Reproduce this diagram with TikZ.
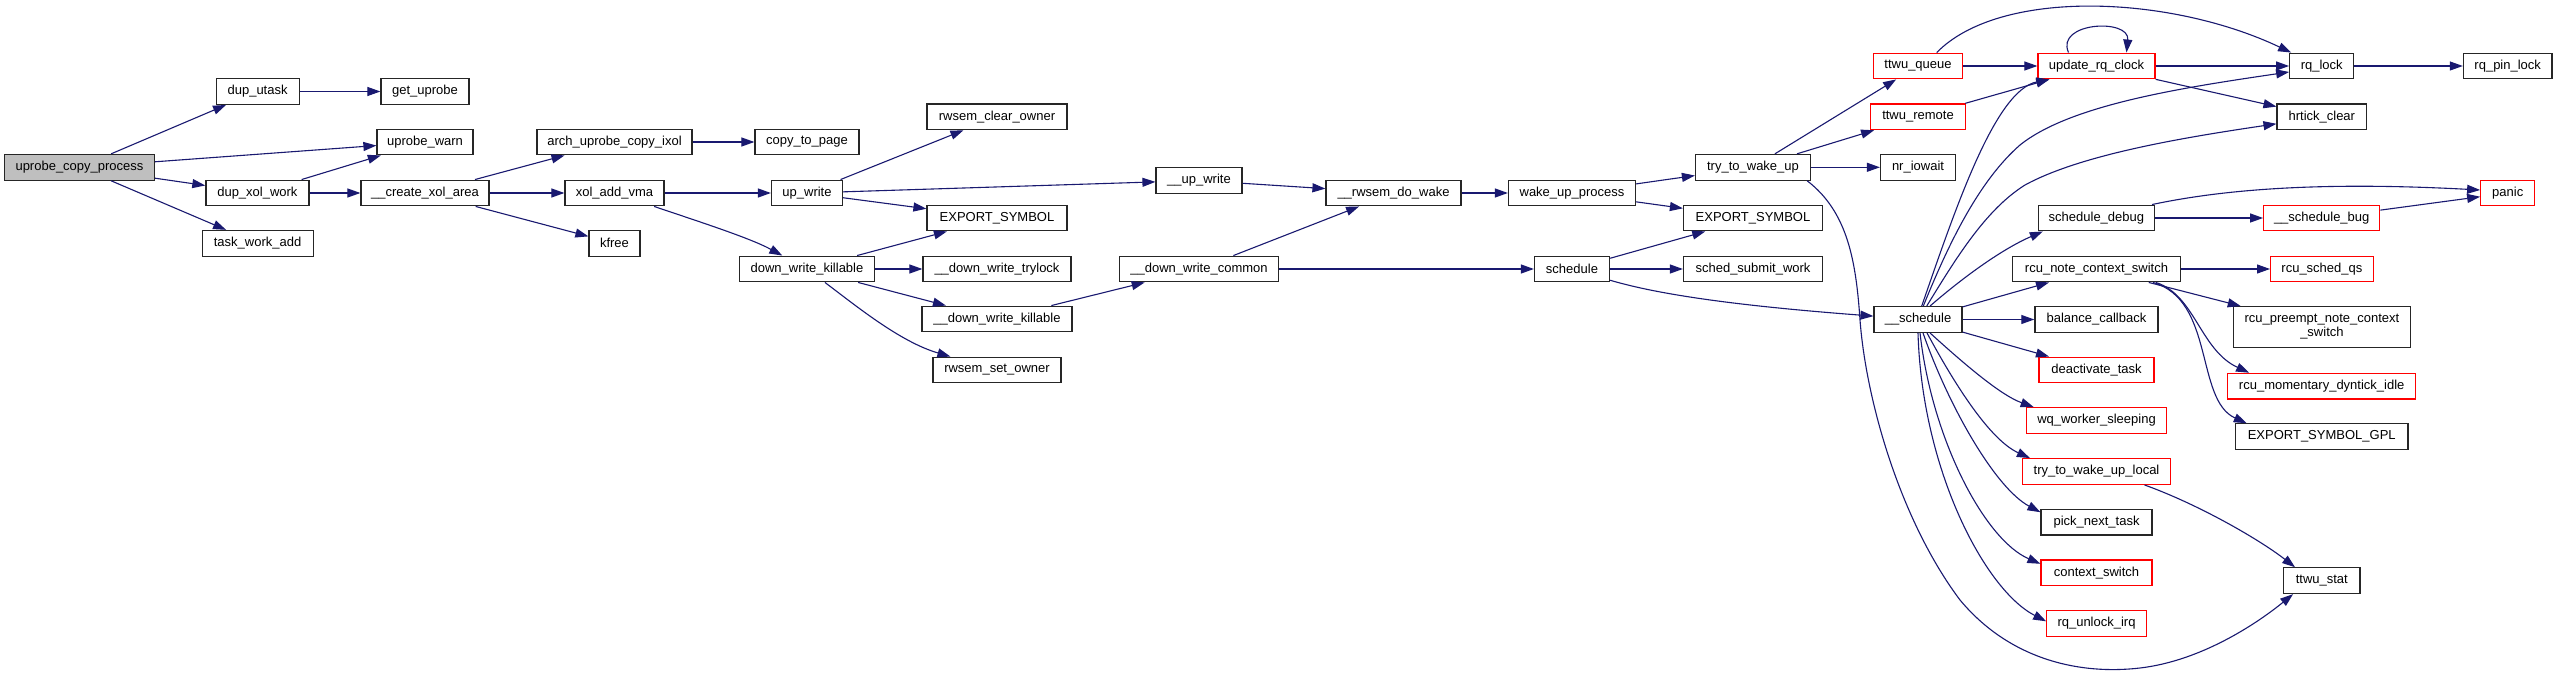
\documentclass[tikz,border=0pt]{standalone}
\usepackage{fontspec}
\setmainfont{Liberation Sans}
\usetikzlibrary{arrows.meta,calc}
\definecolor{edgeblue}{HTML}{191970}
\definecolor{rootgray}{HTML}{BFBFBF}
\definecolor{boxred}{HTML}{FF0000}
\begin{document}
\begin{tikzpicture}[x=1pt,y=-1pt,
  box/.style={draw=black!85, line width=1.2pt, fill=white, minimum height=25.7pt,
    inner sep=0pt, font=\fontsize{13}{14}\selectfont},
  redbox/.style={box, draw=boxred},
  edge/.style={draw=edgeblue, line width=1.1pt, -{Triangle[length=13pt,width=9pt]}}]
\fill[white] (0,0) rectangle (2557,676);
\useasboundingbox (0,0) rectangle (2557,676);

% nodes
\node[box, fill=rootgray, minimum width=150pt] (ucp) at (79.5,167.3) {uprobe\_copy\_process};
\node[box, minimum width=83pt] (dupu) at (257.6,91.5) {dup\_utask};
\node[box, minimum width=88pt] (getu) at (425,91.5) {get\_uprobe};
\node[box, minimum width=96pt] (warn) at (425,142) {uprobe\_warn};
\node[box, minimum width=103pt] (dxw) at (257.4,193) {dup\_xol\_work};
\node[box, minimum width=111pt] (twa) at (257.6,243.3) {task\_work\_add};
\node[box, minimum width=128pt] (cxa) at (425,193) {\_\_create\_xol\_area};
\node[box, minimum width=155pt] (arch) at (614.5,142) {arch\_uprobe\_copy\_ixol};
\node[box, minimum width=99pt] (xav) at (614.5,193) {xol\_add\_vma};
\node[box, minimum width=51pt] (kfree) at (614.5,243.3) {kfree};
\node[box, minimum width=104pt] (ctp) at (807,142) {copy\_to\_page};
\node[box, minimum width=140pt] (rco) at (997,116.8) {rwsem\_clear\_owner};
\node[box, minimum width=71pt] (upw) at (807,193) {up\_write};
\node[box, minimum width=86pt] (uupw) at (1199,180.5) {\_\_up\_write};
\node[box, minimum width=140pt] (exp1) at (997,218) {EXPORT\_SYMBOL};
\node[box, minimum width=135.5pt] (dwk) at (807,269) {down\_write\_killable};
\node[box, minimum width=148pt] (udwt) at (997,269) {\_\_down\_write\_trylock};
\node[box, minimum width=150pt] (udwk) at (997,319) {\_\_down\_write\_killable};
\node[box, minimum width=128pt] (rso) at (997,370) {rwsem\_set\_owner};
\node[box, minimum width=159pt] (udwc) at (1199,269) {\_\_down\_write\_common};
\node[box, minimum width=135pt] (rdw) at (1393.5,193) {\_\_rwsem\_do\_wake};
\node[box, minimum width=127pt] (wup) at (1572,193) {wake\_up\_process};
\node[box, minimum width=115pt] (ttwu) at (1753,167.3) {try\_to\_wake\_up};
\node[box, minimum width=139pt] (exp2) at (1753,218) {EXPORT\_SYMBOL};
\node[box, minimum width=75pt] (sch) at (1572,269) {schedule};
\node[box, minimum width=139pt] (ssw) at (1753,269) {sched\_submit\_work};
\node[redbox, minimum width=89.5pt] (tq) at (1918,66) {ttwu\_queue};
\node[redbox, minimum width=94.5pt] (tr) at (1918,116.8) {ttwu\_remote};
\node[box, minimum width=75pt] (nio) at (1918,167.3) {nr\_iowait};
\node[box, minimum width=88pt] (usch) at (1918,319.5) {\_\_schedule};
\node[redbox, minimum width=117pt] (urc) at (2096.5,66) {update\_rq\_clock};
\node[box, minimum width=64pt] (rql) at (2321.7,66) {rq\_lock};
\node[box, minimum width=88.6pt] (rqp) at (2507.7,66) {rq\_pin\_lock};
\node[box, minimum width=89.5pt] (hrt) at (2321.8,116.8) {hrtick\_clear};
\node[redbox, minimum width=54pt] (panic) at (2507.7,193) {panic};
\node[box, minimum width=116pt] (sdbg) at (2096.4,218) {schedule\_debug};
\node[redbox, minimum width=116pt] (usb) at (2321.7,218) {\_\_schedule\_bug};
\node[box, minimum width=167.6pt] (rncs) at (2096.5,269) {rcu\_note\_context\_switch};
\node[redbox, minimum width=102.6pt] (rsq) at (2321.9,269) {rcu\_sched\_qs};
\node[box, minimum width=177pt, minimum height=40.6pt, align=center] (rpn) at (2321.9,327) {rcu\_preempt\_note\_context\\\_switch};
\node[box, minimum width=123pt] (bcb) at (2096.4,319.5) {balance\_callback};
\node[redbox, minimum width=115pt] (deact) at (2096.5,370) {deactivate\_task};
\node[redbox, minimum width=188pt] (rmdi) at (2321.7,386.2) {rcu\_momentary\_dyntick\_idle};
\node[redbox, minimum width=140.5pt] (wqs) at (2096.5,420.5) {wq\_worker\_sleeping};
\node[box, minimum width=172.7pt] (esg) at (2321.7,436.7) {EXPORT\_SYMBOL\_GPL};
\node[redbox, minimum width=148pt] (ttwl) at (2096.5,471.5) {try\_to\_wake\_up\_local};
\node[box, minimum width=111pt] (pnt) at (2096.5,522.2) {pick\_next\_task};
\node[redbox, minimum width=111pt] (csw) at (2096.5,572.8) {context\_switch};
\node[redbox, minimum width=99.5pt] (rui) at (2096.5,623.3) {rq\_unlock\_irq};
\node[box, minimum width=76.3pt] (tstat) at (2321.8,580.7) {ttwu\_stat};

% edges
\draw[edge] (ucp) -- (dupu);
\draw[edge] (ucp) -- (warn);
\draw[edge] (ucp) -- (dxw);
\draw[edge] (ucp) -- (twa);
\draw[edge] (dupu) -- (getu);
\draw[edge] (dxw) -- (warn);
\draw[edge] (dxw) -- (cxa);
\draw[edge] (cxa) -- (arch);
\draw[edge] (cxa) -- (xav);
\draw[edge] (cxa) -- (kfree);
\draw[edge] (arch) -- (ctp);
\draw[edge] (xav) -- (upw);
\draw[edge] (xav) .. controls (700,222) and (750,238) .. (dwk);
\draw[edge] (upw) -- (rco);
\draw[edge] (upw) -- (uupw);
\draw[edge] (upw) -- (exp1);
\draw[edge] (dwk) -- (exp1);
\draw[edge] (dwk) -- (udwt);
\draw[edge] (dwk) -- (udwk);
\draw[edge] (dwk) .. controls (855,305) and (900,342) .. (rso);
\draw[edge] (udwk) -- (udwc);
\draw[edge] (uupw) -- (rdw);
\draw[edge] (udwc) -- (rdw);
\draw[edge] (udwc) -- (sch);
\draw[edge] (rdw) -- (wup);
\draw[edge] (wup) -- (ttwu);
\draw[edge] (wup) -- (exp2);
\draw[edge] (sch) -- (exp2);
\draw[edge] (sch) -- (ssw);
\draw[edge] (sch) .. controls (1660,295) and (1740,306) .. (usch);
\draw[edge] (ttwu) -- (tq);
\draw[edge] (ttwu) -- (tr);
\draw[edge] (ttwu) -- (nio);
\draw[edge] ($(ttwu.south east)+(-4,0)$) .. controls (1848,212) and (1856,262) .. (1860,320)
  .. controls (1866,400) and (1900,520) .. (1960,600)
  .. controls (2010,660) and (2080,675) .. (2140,668)
  .. controls (2200,661) and (2255,625) .. ($(tstat.south west)+(10,0)$);
\draw[edge] (tq) -- (urc);
\draw[edge] ($(tq.north)+(18.7,0)$) .. controls (2000,-12) and (2170,-5) .. ($(rql.north west)+(2,0)$);
\draw[edge] ($(urc.north)+(-28,0)$) .. controls (2055,22) and (2130,18) .. ($(urc.north)+(30,0)$);
\draw[edge] (tr) -- (urc);
\draw[edge] (urc) -- (rql);
\draw[edge] (urc) -- (hrt);
\draw[edge] (rql) -- (rqp);
% __schedule fan
\draw[edge] ($(usch.north)+(3.7,0)$) .. controls (1955,210) and (1995,90) .. ($(urc.south west)+(12,0)$);
\draw[edge] ($(usch.north)+(5.3,0)$) .. controls (1950,240) and (1980,180) .. (2020,145)
  .. controls (2070,105) and (2180,88) .. ($(rql.west)+(0,6)$);
\draw[edge] ($(usch.north)+(8.7,0)$) .. controls (1955,260) and (1985,210) .. (2025,185)
  .. controls (2080,155) and (2180,138) .. ($(hrt.west)+(0,7)$);
\draw[edge] ($(usch.north)+(12,0)$) .. controls (1960,280) and (2000,250) .. ($(sdbg.south west)+(5,0)$);
\draw[edge] (usch) -- (rncs);
\draw[edge] (usch) -- (bcb);
\draw[edge] (usch) -- (deact);
\draw[edge] ($(usch.south)+(12,0)$) .. controls (1962,362) and (2000,395) .. ($(wqs.north west)+(8,0)$);
\draw[edge] ($(usch.south)+(9,0)$) .. controls (1955,385) and (1990,440) .. ($(ttwl.north west)+(8,0)$);
\draw[edge] ($(usch.south)+(5,0)$) .. controls (1948,405) and (1995,488) .. ($(pnt.west)+(0,-10)$);
\draw[edge] ($(usch.south)+(2,0)$) .. controls (1932,440) and (1985,540) .. ($(csw.west)+(0,-9)$);
\draw[edge] (usch.south) .. controls (1922,470) and (1985,590) .. ($(rui.west)+(0,-2)$);
\draw[edge] ($(ttwl.south)+(48,0)$) .. controls (2200,505) and (2260,540) .. ($(tstat.north west)+(12,0)$);
% right part
\draw[edge] (sdbg) -- (usb);
\draw[edge] ($(sdbg.north east)+(-3,0)$) .. controls (2230,188) and (2330,182) .. ($(panic.west)+(0,-3)$);
\draw[edge] (usb) -- (panic);
\draw[edge] (rncs) -- (rsq);
\draw[edge] (rncs) -- (rpn);
\draw[edge] ($(rncs.south east)+(-25,0)$) .. controls (2195,295) and (2200,350) .. ($(rmdi.north west)+(22,0)$);
\draw[edge] ($(rncs.south east)+(-28,0)$) .. controls (2215,300) and (2195,400) .. ($(esg.north west)+(12,0)$);
\end{tikzpicture}
\end{document}
